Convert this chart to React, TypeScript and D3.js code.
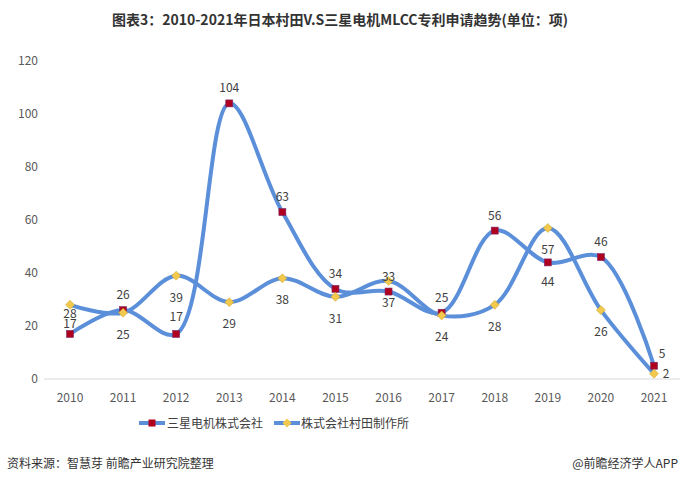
import React from "react";
import * as d3 from "d3";

const years = ["2010","2011","2012","2013","2014","2015","2016","2017","2018","2019","2020","2021"];
const samsung = [17, 26, 17, 104, 63, 34, 33, 25, 56, 44, 46, 5];
const murata = [28, 25, 39, 29, 38, 31, 37, 24, 28, 57, 26, 2];
const yTicks = [0, 20, 40, 60, 80, 100, 120];

export default function App() {
  const x = d3.scaleLinear().domain([0, 11]).range([70, 654]);
  const y = d3.scaleLinear().domain([0, 120]).range([379, 61]);
  const line = d3.line<number>().x((_, i) => x(i)).y(d => y(d)).curve(d3.curveCatmullRom.alpha(0.5));
  const font = "'Noto Sans CJK SC', 'Noto Sans', sans-serif";
  const sPos = (i: number): [number, number] => {
    if (i === 9) return [0, 24];
    if (i === 11) return [8, -8];
    if (i === 2) return [0, -13];
    if (i === 0) return [0, -6];
    return [0, -11];
  };
  const mPos = (i: number): [number, number] => {
    if (i === 0) return [0, 13];
    if (i === 11) return [12, 4];
    return [0, 26];
  };
  const blue = "#5b8fd9";
  return (
    <svg width={680} height={484} style={{ position: "absolute", left: 0, top: 0, fontFamily: font }}>
      <rect width={680} height={484} fill="#fff" />
      <text x={340} y={25} textAnchor="middle" fontSize={14} fontWeight="bold" fill="#333">图表3：2010-2021年日本村田V.S三星电机MLCC专利申请趋势(单位：项)</text>
      {yTicks.map(t => (
        <text key={t} x={38} y={y(t) + 4} textAnchor="end" fontSize={12} fill="#595959">{t}</text>
      ))}
      <line x1={44} x2={680} y1={379} y2={379} stroke="#d9d9d9" />
      {years.map((yr, i) => (
        <text key={yr} x={x(i)} y={402} textAnchor="middle" fontSize={12} fill="#595959">{yr}</text>
      ))}
      <path d={line(samsung) || ""} fill="none" stroke={blue} strokeWidth={4} />
      <path d={line(murata) || ""} fill="none" stroke={blue} strokeWidth={4} />
      {samsung.map((v, i) => (
        <rect key={"s" + i} x={x(i) - 3.5} y={y(v) - 3.5} width={7} height={7} fill="#b00020" stroke="#7a2a6a" strokeWidth={0.6} />
      ))}
      {murata.map((v, i) => (
        <path key={"m" + i} d={`M${x(i)},${y(v) - 4.5}L${x(i) + 4.5},${y(v)}L${x(i)},${y(v) + 4.5}L${x(i) - 4.5},${y(v)}Z`} fill="#f2c94c" stroke="#c9a227" strokeWidth={0.5} />
      ))}
      {samsung.map((v, i) => (
        <text key={"sl" + i} x={x(i) + sPos(i)[0]} y={y(v) + sPos(i)[1]} textAnchor="middle" fontSize={12} fill="#404040">{v}</text>
      ))}
      {murata.map((v, i) => (
        <text key={"ml" + i} x={x(i) + mPos(i)[0]} y={y(v) + mPos(i)[1]} textAnchor="middle" fontSize={12} fill="#404040">{v}</text>
      ))}
      <g fontSize={12} fill="#404040">
        <line x1={139} x2={165} y1={423} y2={423} stroke={blue} strokeWidth={4} />
        <rect x={148.5} y={419.5} width={7} height={7} fill="#b00020" />
        <text x={167} y={428}>三星电机株式会社</text>
        <line x1={274} x2={300} y1={423} y2={423} stroke={blue} strokeWidth={4} />
        <path d="M287,418.5L291.5,423L287,427.5L282.5,423Z" fill="#f2c94c" />
        <text x={301} y={428}>株式会社村田制作所</text>
      </g>
      <text x={7} y={468} fontSize={12} fill="#333">资料来源：智慧芽 前瞻产业研究院整理</text>
      <text x={678} y={468} textAnchor="end" fontSize={12} fill="#333">@前瞻经济学人APP</text>
    </svg>
  );
}
